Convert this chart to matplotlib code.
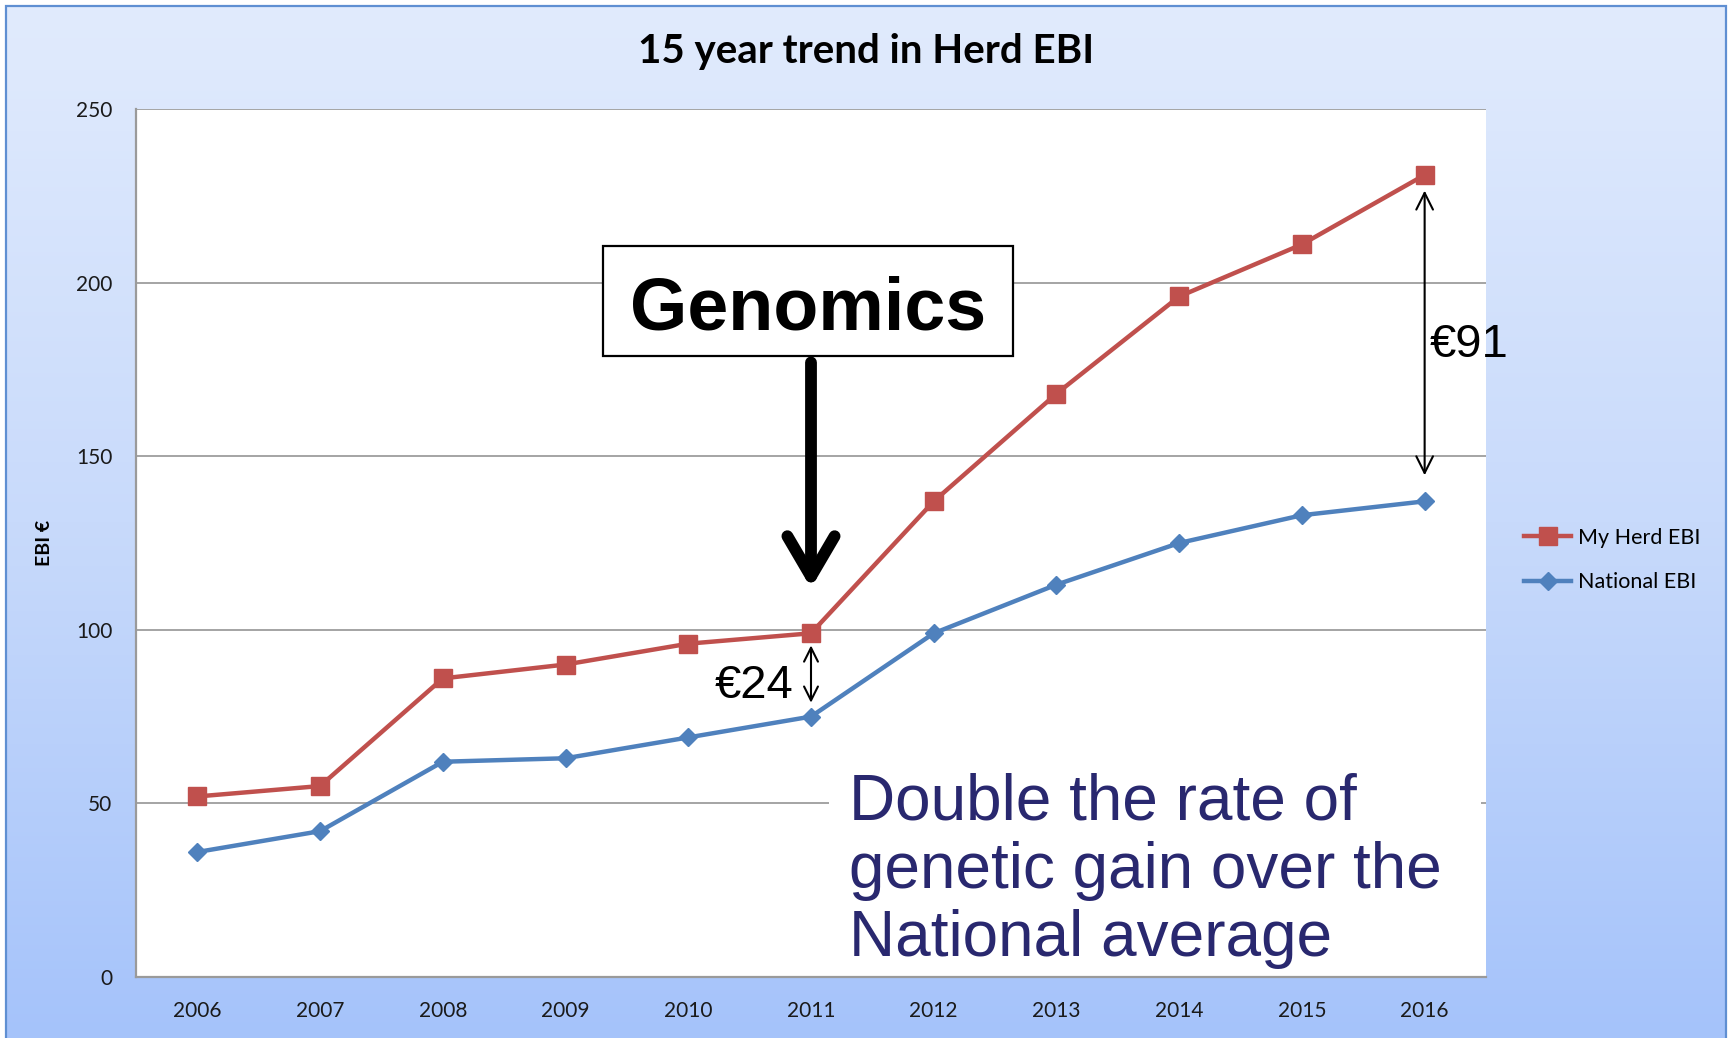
import numpy as np
import matplotlib
matplotlib.use("Agg")
import matplotlib.pyplot as plt
from matplotlib.colors import LinearSegmentedColormap
from matplotlib.patches import Rectangle

# --------------------------
# DATA
# --------------------------
years = ["2006", "2007", "2008", "2009", "2010", "2011",
         "2012", "2013", "2014", "2015", "2016"]
my_herd_ebi = [52, 55, 86, 90, 96, 99, 137, 168, 196, 211, 231]
national_ebi = [36, 42, 62, 63, 69, 75, 99, 113, 125, 133, 137]
y_ticks = [0, 50, 100, 150, 200, 250]

gap_labels = ["€24", "€91"]
message_lines = ["Double the rate of", "genetic gain over the", "National average"]

RED = "#C0504D"
BLUE = "#4F81BD"
GRID = "#8c8c8c"
NAVY = "#29286f"

# --------------------------
# FIGURE (pixel helpers, origin top-left)
# --------------------------
W, H = 1733, 1038
fig = plt.figure(figsize=(W / 100, H / 100), dpi=100)
fig.patch.set_facecolor("white")


def fx(x):
    return x / W


def fy(y):
    return 1 - y / H


# gradient background
bg = fig.add_axes([0, 0, 1, 1], zorder=0)
bg.set_xlim(0, 1)
bg.set_ylim(0, 1)
bg.axis("off")
grad = np.linspace(0, 1, 256).reshape(-1, 1)
cmap = LinearSegmentedColormap.from_list("bg", ["#e1ebfd", "#c8dafb", "#a5c3fa"])
bg.imshow(grad, aspect="auto", cmap=cmap, origin="upper",
          extent=[fx(6), fx(1726), 0, fy(6)])
bg.add_patch(Rectangle((fx(6), -0.02), fx(1720), fy(6) + 0.02,
                       fill=False, ec="#5f8fd2", lw=1.6))

# --------------------------
# MAIN AXES
# --------------------------
ax = fig.add_axes([fx(136), fy(977), 1350 / W, 868 / H], zorder=1)
ax.set_facecolor("white")
x = np.arange(len(years))

ax.plot(x, my_herd_ebi, color=RED, lw=3.2, marker="s", ms=13,
        label="My Herd EBI", zorder=4)
ax.plot(x, national_ebi, color=BLUE, lw=3.2, marker="D", ms=9.5,
        label="National EBI", zorder=4)

ax.set_xlim(-0.5, len(years) - 0.5)
ax.set_ylim(0, 250)
ax.set_xticks(x)
ax.set_xticklabels(years)
ax.set_yticks(y_ticks)
ax.set_axisbelow(True)
ax.grid(axis="y", color=GRID, lw=1.1)
for s in ["top", "right"]:
    ax.spines[s].set_visible(False)
for s in ["left", "bottom"]:
    ax.spines[s].set_color("#9a9a9a")
    ax.spines[s].set_linewidth(1.6)
ax.tick_params(axis="both", length=0, labelsize=15, labelcolor="#1a1a1a")
ax.tick_params(axis="x", pad=17)
ax.tick_params(axis="y", pad=17)
for lab in ax.get_xticklabels() + ax.get_yticklabels():
    lab.set_family("Lato")

ax.set_ylabel("EBI €", fontsize=14, weight="bold", family="Lato")
ax.yaxis.set_label_coords((53 - 136) / 1350, 0.5)

# white text box that hides the gridline in the bottom right
ax.add_patch(Rectangle(((829 - 136) / 1350, 0), (1481 - 829) / 1350, (977 - 762) / 868,
                       transform=ax.transAxes, fc="white", ec="none", zorder=1.5))

# legend
ax.legend(loc="center left", bbox_to_anchor=(fx(1524), fy(560)),
          bbox_transform=fig.transFigure, frameon=False,
          prop={"family": "Lato", "size": 15.5}, handlelength=2.2,
          handletextpad=0.3, labelspacing=1.15, borderpad=0, borderaxespad=0)

# --------------------------
# ANNOTATIONS
# --------------------------
fig.text(0.5, fy(52), "15 year trend in Herd EBI", ha="center", va="center",
         fontsize=29, weight="bold", family="Lato", color="black")

# Genomics box + big arrow
fig.add_artist(Rectangle((fx(603), fy(356)), 410 / W, 110 / H,
                         transform=fig.transFigure, fc="white", ec="black",
                         lw=1.6, zorder=5))
fig.text(fx(808), fy(329), "Genomics", ha="center", va="baseline",
         fontsize=53, weight="bold", family="Liberation Sans", zorder=6)
ax.annotate("", xy=(5, 112), xytext=(5, 177),
            arrowprops=dict(arrowstyle="->, head_length=29, head_width=17",
                            mutation_scale=1, lw=8.5, color="black",
                            shrinkA=0, shrinkB=0, capstyle="round",
                            joinstyle="round"),
            annotation_clip=False, zorder=6)

# gap arrows
ax.annotate("", xy=(5, my_herd_ebi[5] - 3.5), xytext=(5, national_ebi[5] + 4),
            arrowprops=dict(arrowstyle="<->, head_length=10, head_width=5",
                            mutation_scale=1, lw=1.5, color="black",
                            shrinkA=0, shrinkB=0),
            zorder=6)
ax.annotate("", xy=(10, my_herd_ebi[10] - 4.5), xytext=(10, national_ebi[10] + 7.5),
            arrowprops=dict(arrowstyle="<->, head_length=12, head_width=6",
                            mutation_scale=1, lw=1.5, color="black",
                            shrinkA=0, shrinkB=0),
            zorder=6)
fig.text(fx(793), fy(698), gap_labels[0], ha="right", va="baseline",
         fontsize=34, family="Liberation Sans", zorder=6)
fig.text(fx(1430), fy(357), gap_labels[1], ha="left", va="baseline",
         fontsize=34, family="Liberation Sans", zorder=6)

# message text
for i, line in enumerate(message_lines):
    fig.text(fx(849), fy(820 + i * 68), line, ha="left", va="baseline",
             fontsize=46, family="Liberation Sans", color=NAVY, zorder=6)

fig.savefig("out.png", dpi=100)
